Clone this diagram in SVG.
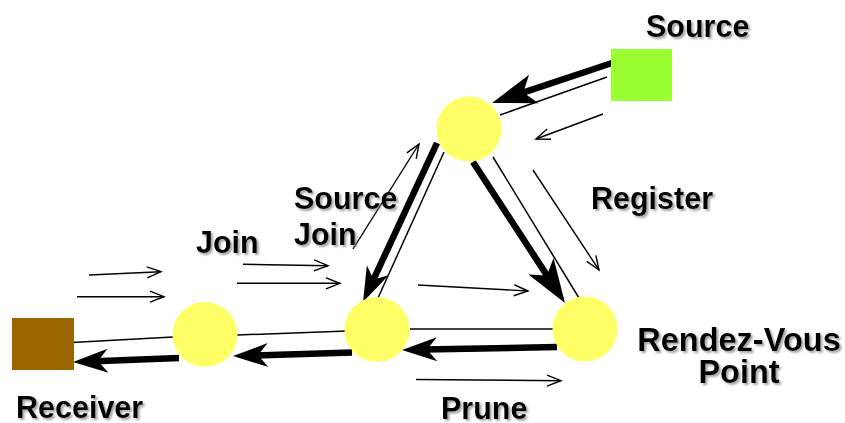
<svg xmlns="http://www.w3.org/2000/svg" width="845" height="423" viewBox="0 0 845 423">
  <style>
    .label { font-family: "Liberation Sans", Arial, sans-serif; font-weight: bold; font-size: 30.5px; fill: #000; filter: url(#shadow); }
    .router { fill: #FFFF66; }
    .link { stroke: #000; stroke-width: 1.5; fill: none; }
    .tree { stroke: #000; stroke-width: 6.5; fill: none; }
    .msg { stroke: #000; stroke-width: 1.4; fill: none; marker-end: url(#open); }
  </style>
  <defs>
    <filter id="shadow" x="-10%" y="-20%" width="130%" height="150%">
      <feDropShadow dx="2" dy="2" stdDeviation="0.8" flood-color="#7a7a7a" flood-opacity="0.7"/>
    </filter>
    <!-- large swept-back head for the diagonal tree branches -->
    <marker id="big" markerUnits="userSpaceOnUse" markerWidth="70" markerHeight="40" refX="0" refY="0" viewBox="-20 -20 70 40" orient="auto" overflow="visible">
      <path d="M28,0 L-16,-15 L-5,0 L-16,15 Z" fill="#000"/>
    </marker>
    <!-- medium swept-back head -->
    <marker id="mid" markerUnits="userSpaceOnUse" markerWidth="60" markerHeight="30" refX="0" refY="0" viewBox="-16 -15 60 30" orient="auto" overflow="visible">
      <path d="M22,0 L-13,-12 L-3,0 L-13,12 Z" fill="#000"/>
    </marker>
    <!-- open head for control messages -->
    <marker id="open" markerUnits="userSpaceOnUse" markerWidth="20" markerHeight="14" refX="0" refY="0" viewBox="-16 -7 20 14" orient="auto" overflow="visible">
      <path d="M-14,-5.5 L0,0 L-14,5.5" fill="none" stroke="#000" stroke-width="1.4"/>
    </marker>
  </defs>

  <g id="connectors">
    <!-- physical links -->
    <line class="link" x1="607" y1="77" x2="500" y2="115"/>
    <line class="link" x1="444" y1="152" x2="378" y2="298"/>
    <line class="link" x1="493" y1="157" x2="579" y2="298"/>
    <line class="link" x1="553" y1="329" x2="410" y2="329"/>
    <line class="link" x1="347" y1="331" x2="237" y2="335"/>
    <line class="link" x1="173" y1="337" x2="72" y2="342.5"/>

    <!-- distribution tree (thick) -->
    <line class="tree" x1="612" y1="63" x2="518.6" y2="94.1" marker-end="url(#big)"/>
    <line class="tree" x1="473" y1="162" x2="549.7" y2="279.6" marker-end="url(#big)"/>
    <line class="tree" x1="437" y1="143" x2="372.3" y2="282.1" marker-end="url(#mid)"/>
    <line class="tree" x1="557" y1="347" x2="424" y2="349.6" marker-end="url(#mid)"/>
    <line class="tree" x1="352" y1="352.5" x2="255" y2="355.4" marker-end="url(#mid)"/>
    <line class="tree" x1="179" y1="358" x2="95" y2="361.2" marker-end="url(#mid)"/>

    <!-- control messages -->
    <line class="msg" x1="89" y1="275" x2="161" y2="271.7"/>
    <line class="msg" x1="77" y1="296.7" x2="164" y2="296.7"/>
    <line class="msg" x1="243" y1="264.3" x2="328" y2="265.7"/>
    <line class="msg" x1="237" y1="283.3" x2="340" y2="283.3"/>
    <line class="msg" x1="353" y1="249" x2="419" y2="144"/>
    <line class="msg" x1="603" y1="114" x2="536" y2="139"/>
    <line class="msg" x1="533" y1="170" x2="599" y2="270"/>
    <line class="msg" x1="418" y1="285" x2="528" y2="291"/>
    <line class="msg" x1="416" y1="379.5" x2="561" y2="380.7"/>
  </g>

  <g id="source">
    <rect x="611" y="49" width="61" height="52" fill="#99FF33"/>
    <text class="label" x="646" y="37">Source</text>
  </g>
  <g id="receiver">
    <rect x="12" y="318" width="62" height="52" fill="#996600"/>
    <text class="label" x="16" y="417.5">Receiver</text>
  </g>
  <g id="router-top">
    <circle class="router" cx="469" cy="129" r="32.5"/>
  </g>
  <g id="router-left">
    <circle class="router" cx="205" cy="334.5" r="32.5"/>
  </g>
  <g id="router-mid">
    <circle class="router" cx="377" cy="329.5" r="32.5"/>
  </g>
  <g id="rendezvous-point">
    <circle class="router" cx="585" cy="329" r="32.5"/>
    <text class="label" x="739" y="350.5" text-anchor="middle" style="font-size:32.5px">Rendez-Vous</text>
    <text class="label" x="739" y="383" text-anchor="middle" style="font-size:32.5px">Point</text>
  </g>

  <g id="labels">
    <text class="label" x="591" y="209">Register</text>
    <text class="label" x="294" y="209">Source</text>
    <text class="label" x="294" y="244.5">Join</text>
    <text class="label" x="196" y="252.5">Join</text>
    <text class="label" x="441" y="418.5">Prune</text>
  </g>
</svg>
